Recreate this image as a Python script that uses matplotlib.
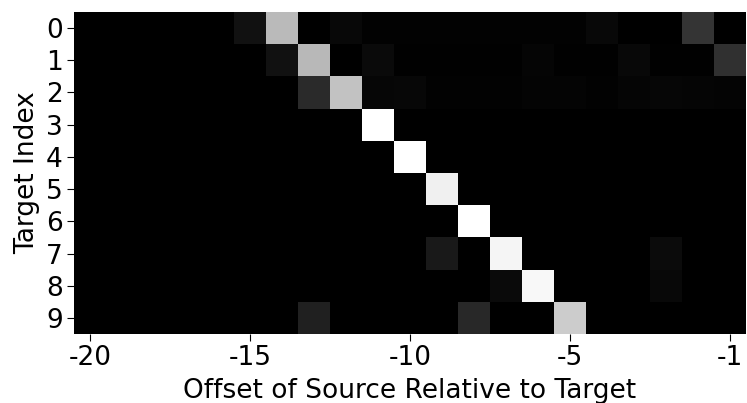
import numpy as np
import matplotlib
matplotlib.use("Agg")
import matplotlib.pyplot as plt

# Attention weights: rows = target index 0..9, columns = 21 source offsets
row0 = [0, 0, 0, 0, 0, 0.067, 0.73, 0.0, 0.035, 0.008, 0.008, 0.008, 0.008, 0.008, 0.008, 0.008, 0.035, 0.0, 0.0, 0.21, 0.0]
row1 = [0, 0, 0, 0, 0, 0, 0.067, 0.72, 0.0, 0.04, 0.006, 0.006, 0.006, 0.006, 0.02, 0.006, 0.006, 0.035, 0.006, 0.006, 0.19]
row2 = [0, 0, 0, 0, 0, 0, 0, 0.165, 0.76, 0.025, 0.03, 0.008, 0.008, 0.008, 0.018, 0.018, 0.008, 0.02, 0.025, 0.02, 0.018]
row3 = [0, 0, 0, 0, 0, 0, 0, 0, 0, 1.0, 0, 0, 0, 0, 0, 0, 0, 0, 0, 0, 0]
row4 = [0, 0, 0, 0, 0, 0, 0, 0, 0, 0, 1.0, 0, 0, 0, 0, 0, 0, 0, 0, 0, 0]
row5 = [0, 0, 0, 0, 0, 0, 0, 0, 0, 0, 0, 0.94, 0, 0, 0, 0, 0, 0, 0, 0, 0]
row6 = [0, 0, 0, 0, 0, 0, 0, 0, 0, 0, 0, 0, 1.0, 0, 0, 0, 0, 0, 0, 0, 0]
row7 = [0, 0, 0, 0, 0, 0, 0, 0, 0, 0, 0, 0.10, 0, 0.96, 0, 0, 0, 0, 0.045, 0, 0]
row8 = [0, 0, 0, 0, 0, 0, 0, 0, 0, 0, 0, 0, 0, 0.04, 0.97, 0, 0, 0, 0.035, 0, 0]
row9 = [0, 0, 0, 0, 0, 0, 0, 0.13, 0, 0, 0, 0, 0.16, 0, 0, 0.80, 0, 0, 0, 0, 0]

target_labels = [str(i) for i in range(10)]
xtick_positions = [0, 5, 10, 15, 20]
xtick_labels = ["-20", "-15", "-10", "-5", "-1"]

data = np.array([row0, row1, row2, row3, row4, row5, row6, row7, row8, row9])

fig = plt.figure(figsize=(7.47, 4.03), dpi=100)
ax = fig.add_axes([74 / 747, 1 - 334 / 403, 672 / 747, 322 / 403])
ax.imshow(data, cmap="gray", vmin=0, vmax=1, aspect="auto", interpolation="nearest")

ax.set_xticks(xtick_positions)
ax.set_xticklabels(xtick_labels, fontsize=19)
ax.set_yticks(range(10))
ax.set_yticklabels(target_labels, fontsize=19)
ax.tick_params(length=5, pad=3)
ax.set_xlabel("Offset of Source Relative to Target", fontsize=19, labelpad=5)
ax.set_ylabel("Target Index", fontsize=19, labelpad=4)
for s in ax.spines.values():
    s.set_visible(False)

fig.savefig("out.png", dpi=100)
